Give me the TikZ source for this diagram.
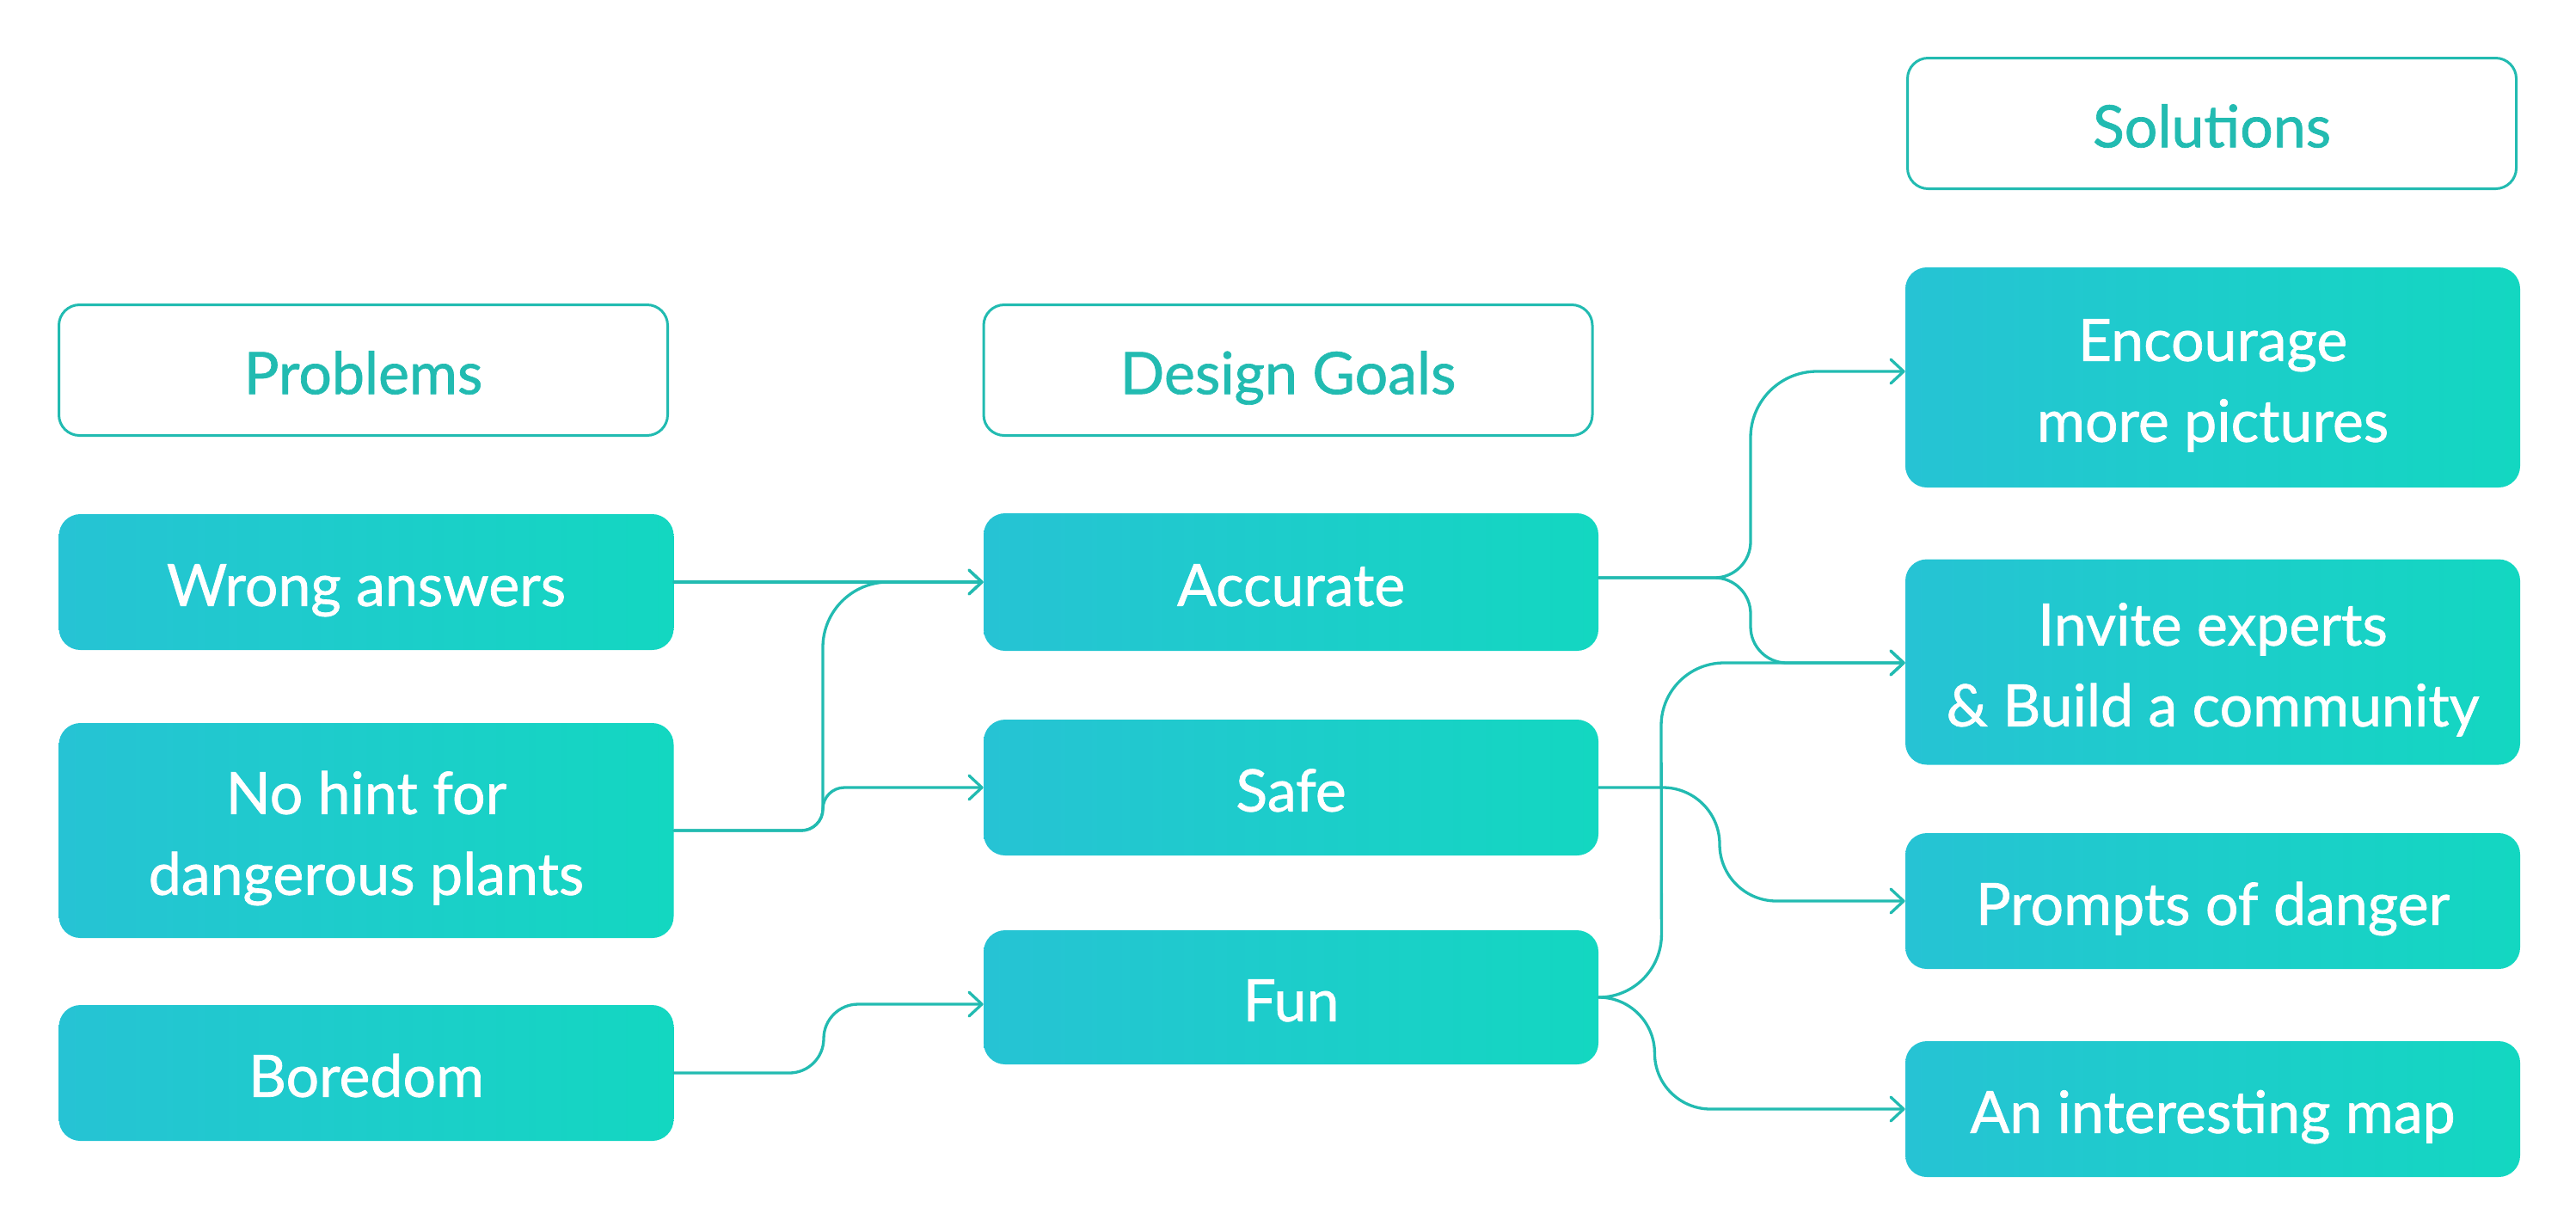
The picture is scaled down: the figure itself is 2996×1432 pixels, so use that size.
\documentclass[tikz,border=0pt]{standalone}
\usepackage{fontspec}
\setmainfont{Lato}
\newfontfamily\medfont[FakeBold=1]{Lato}
\usetikzlibrary{arrows.meta,calc}
\definecolor{lineC}{RGB}{34,187,177}
\definecolor{gL}{RGB}{38,195,212}
\definecolor{gR}{RGB}{19,215,193}
\newcommand{\lowtxt}[1]{\raisebox{-4.5pt}[\height][\depth]{\begin{tabular}{@{}c@{}}#1\end{tabular}}}
\begin{document}
\begin{tikzpicture}[x=0.5pt,y=0.5pt,
  box/.style={rounded corners=12.5pt, minimum width=357.5pt, minimum height=79pt,
    left color=gL, right color=gR, text=white, font=\medfont\fontsize{34}{47}\selectfont,
    inner sep=0pt},
  head/.style={draw=lineC, line width=1.5pt, rounded corners=12pt, minimum width=354pt,
    minimum height=76pt, text=lineC, font=\medfont\fontsize{34}{47}\selectfont, inner sep=0pt},
  conn/.style={draw=lineC, line width=1.65pt, line cap=round,
    -{Straight Barb[length=7.5pt,width=14pt,round]}}]
\useasboundingbox (0,0) rectangle (2996,-1432);
% headers
\node[head] (problems) at (422.5,-430.5) {\lowtxt{Problems}};
\node[head] (goals) at (1498,-430.5) {\lowtxt{Design Goals}};
\node[head] (solutions) at (2572.5,-143.5) {\lowtxt{Solutions}};
% problems
\node[box] (wrong) at (426,-677) {\lowtxt{Wrong answers}};
\node[box, minimum height=125pt] (nohint) at (426,-966) {\lowtxt{No hint for\\dangerous plants}};
\node[box] (boredom) at (426,-1248) {\lowtxt{Boredom}};
% goals
\node[box, minimum height=80pt] (accurate) at (1501.5,-677) {\lowtxt{Accurate}};
\node[box] (safe) at (1501.5,-916) {\lowtxt{Safe}};
\node[box, minimum height=78pt] (fun) at (1501.5,-1160) {\lowtxt{Fun}};
% solutions
\node[box, minimum height=128pt] (encourage) at (2573.5,-439) {\lowtxt{Encourage\\more pictures}};
\node[box, minimum height=119.5pt] (invite) at (2573.5,-770) {\lowtxt{Invite experts\\\& Build a community}};
\node[box] (prompts) at (2573.5,-1048) {\lowtxt{Prompts of danger}};
\node[box] (map) at (2573.5,-1290) {\lowtxt{An interesting map}};
% connectors
\draw[conn] (wrong.east) -- (accurate.west);
\draw[conn] (nohint.east) -- (932,-966) arc[start angle=-90,end angle=0,radius=25]
  -- (957,-753) arc[start angle=180,end angle=90,radius=76] -- (accurate.west);
\draw[conn] (nohint.east) -- (932,-966) arc[start angle=-90,end angle=0,radius=25]
  arc[start angle=180,end angle=90,radius=25] -- (safe.west);
\draw[conn] (boredom.east) -- (918,-1248) arc[start angle=-90,end angle=0,radius=40]
  arc[start angle=180,end angle=90,radius=40] -- ($(fun.west)+(0,-8)$);
\draw[conn] ($(accurate.east)+(0,5)$) -- (1994,-672) arc[start angle=-90,end angle=0,radius=42]
  -- (2036,-509) arc[start angle=180,end angle=90,radius=77] -- ($(encourage.west)+(0,7)$);
\draw[conn] ($(accurate.east)+(0,5)$) -- (1994,-672) arc[start angle=90,end angle=0,radius=42]
  -- (2036,-729) arc[start angle=180,end angle=270,radius=42] -- ($(invite.west)+(0,-1)$);
\draw[conn] (safe.east) -- (1934,-916) arc[start angle=90,end angle=0,radius=66]
  arc[start angle=180,end angle=270,radius=66] -- (prompts.west);
\draw[conn] (fun.east) arc[start angle=-90,end angle=0,radius=73]
  -- (1932,-844) arc[start angle=180,end angle=90,radius=73] -- ($(invite.west)+(0,-1)$);
\draw[conn] (fun.east) arc[start angle=90,end angle=0,radius=65]
  arc[start angle=180,end angle=270,radius=65] -- (map.west);
\end{tikzpicture}
\end{document}
